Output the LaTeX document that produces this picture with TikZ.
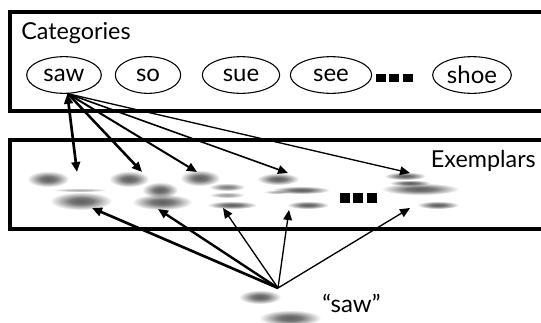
\documentclass[tikz,border=0pt]{standalone}
\usepackage{fontspec}
\setmainfont{Lato}
\usetikzlibrary{arrows.meta,fadings,shapes.geometric}

%soft blot: opaque core, fading out towards the rim
\pgfdeclareradialshading{blotshade}{\pgfpointorigin}{color(0bp)=(white); color(9bp)=(white!85!black); color(25bp)=(black); color(50bp)=(black)}
\pgfdeclarefading{fuzzy}{\pgfuseshading{blotshade}}

\begin{document}
\begin{tikzpicture}[x=0.75pt,y=0.75pt,yscale=-1,xscale=1,
    panel/.style={line width=2.4pt},
    word/.style={draw, ellipse, line width=0.8pt, inner sep=0pt, minimum height=27.5pt, font=\fontsize{18}{20}\selectfont},
    title/.style={font=\fontsize{17.5}{20}\selectfont, inner sep=0pt},
    smudge/.style={fill={rgb, 255:red, 95; green, 95; blue, 95 }, path fading=fuzzy},
    tip/.style={-{Triangle[length=7.5pt,width=6.5pt]}},
    twotip/.style={{Triangle[length=7.5pt,width=6.5pt]}-{Triangle[length=7.5pt,width=6.5pt]}},
  ]
		\useasboundingbox (0,0) rectangle (541,322);
		\clip (0,0) rectangle (541,322);
		
		%panels, running off the right side
		\draw [panel] (10,12) rectangle (570,111) ;
		\draw [panel] (10,140) rectangle (570,229) ;
		
		\node [title, anchor=base west] (cattitle) at (21,39) {Categories};
		\node [title, anchor=base east] (extitle) at (536,167) {Exemplars};
		
		%category words
		\node [word, minimum width=56pt] (saw) at (64,75) {saw};
		\node [word, minimum width=49pt] (so) at (148,75) {so};
		\node [word, minimum width=58pt] (sue) at (241,75) {sue};
		\node [word, minimum width=61pt] (see) at (331,75) {see};
		\node [word, minimum width=59pt] (shoe) at (472,75) {shoe};
		\fill (376,74) rectangle (386,82) ;
		\fill (389,74) rectangle (399,82) ;
		\fill (403,74) rectangle (413,82) ;
		
		%exemplar 1
		\fill [smudge] (48,179) ellipse [x radius=21, y radius=8] ;
		\fill [smudge, opacity=0.5] (80,190) ellipse [x radius=28, y radius=2] ;
		\fill [smudge] (81,201) ellipse [x radius=31, y radius=9] ;
		%exemplar 2
		\fill [smudge] (129,179) ellipse [x radius=20, y radius=8] ;
		\fill [smudge] (160,190) ellipse [x radius=18, y radius=8] ;
		\fill [smudge] (162,202) ellipse [x radius=30, y radius=8] ;
		%exemplar 3
		\fill [smudge] (200,178) ellipse [x radius=20, y radius=8] ;
		\fill [smudge, opacity=0.8] (227,187) ellipse [x radius=18, y radius=4] ;
		\fill [smudge, opacity=0.6] (227,195) ellipse [x radius=18, y radius=3] ;
		\fill [smudge] (232,205) ellipse [x radius=25, y radius=4] ;
		%exemplar 4
		\fill [smudge] (278,179) ellipse [x radius=21, y radius=6] ;
		\fill [smudge, opacity=0.5] (277,192) ellipse [x radius=14, y radius=2] ;
		\fill [smudge] (301,190) ellipse [x radius=29, y radius=4] ;
		\fill [smudge] (308,205) ellipse [x radius=21, y radius=4] ;
		%exemplar 5
		\fill [smudge] (405,176) ellipse [x radius=21, y radius=4] ;
		\fill [smudge] (410,183) ellipse [x radius=21, y radius=3] ;
		\fill [smudge] (420,189) ellipse [x radius=39, y radius=6] ;
		\fill [smudge] (438,205) ellipse [x radius=21, y radius=4] ;
		
		\fill (340,193) rectangle (350,203) ;
		\fill (353,193) rectangle (363,203) ;
		\fill (367,193) rectangle (377,203) ;
		
		%the heard token
		\fill [smudge] (260,297) ellipse [x radius=21, y radius=7] ;
		\fill [smudge] (290,318) ellipse [x radius=31, y radius=8] ;
		\node [title, anchor=base west, font=\fontsize{18}{20}\selectfont] (heard) at (322,312) {``saw''};
		
		\coordinate (e1t) at (77,172);
		\coordinate (e2t) at (142,172);
		\coordinate (e3t) at (197,172);
		\coordinate (e4t) at (288,173);
		\coordinate (e5t) at (410,173);
		\coordinate (e1b) at (92,208);
		\coordinate (e2b) at (158,209);
		\coordinate (e3b) at (223,208);
		\coordinate (e4b) at (289,210);
		\coordinate (e5b) at (410,208);
		\coordinate (ear) at (278,288);
		
		%category to exemplars
		\draw [twotip, line width=2pt] (saw.-80) -- (e1t) ;
		\draw [tip, line width=1.9pt] (saw.-78) -- (e2t) ;
		\draw [tip, line width=1.5pt] (saw.-78) -- (e3t) ;
		\draw [tip, line width=1.2pt] (saw.-78) -- (e4t) ;
		\draw [tip, line width=1pt] (saw.-78) -- (e5t) ;
		
		%token to exemplars
		\draw [tip, line width=2pt] (ear) -- (e1b) ;
		\draw [tip, line width=1.8pt] (ear) -- (e2b) ;
		\draw [tip, line width=1pt] (ear) -- (e3b) ;
		\draw [tip, line width=1pt] (ear) -- (e4b) ;
		\draw [tip, line width=1pt] (ear) -- (e5b) ;
		
		\end{tikzpicture}
\end{document}
